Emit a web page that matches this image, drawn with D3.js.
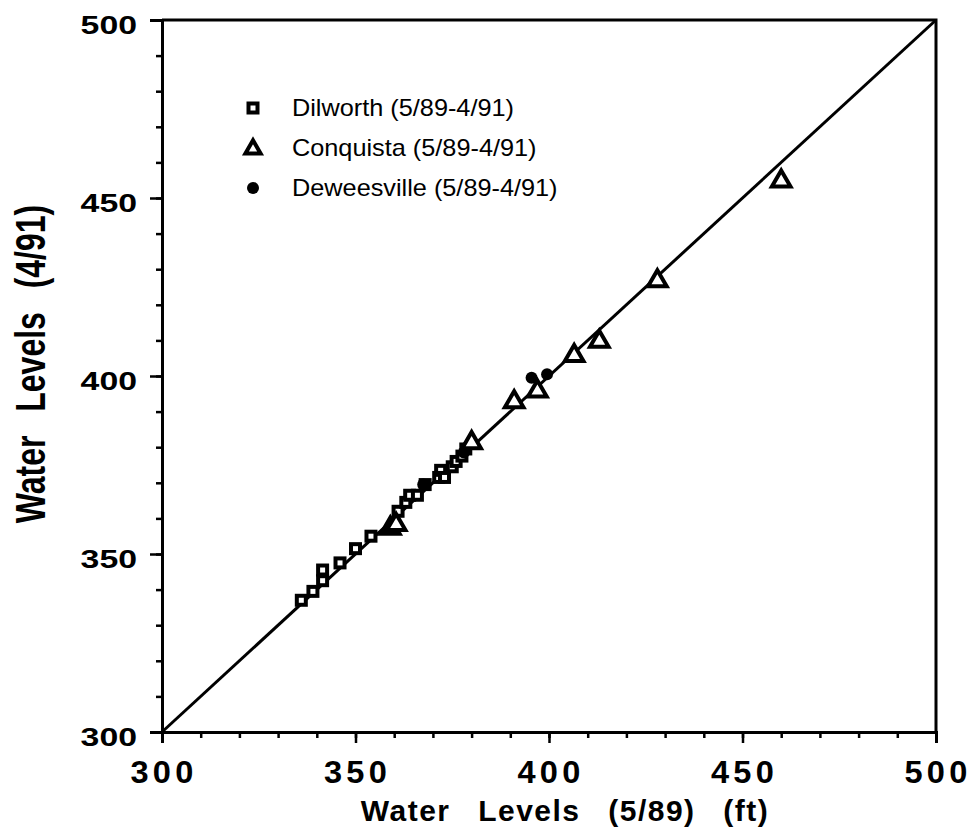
<!DOCTYPE html>
<html><head><meta charset="utf-8">
<script src="https://cdn.jsdelivr.net/npm/d3@7"></script>
<style>
html,body{margin:0;padding:0;background:#fff;}
svg{display:block;}
</style></head>
<body>
<script>
// ---- data ----
const xTicksMajor = [300, 350, 400, 450, 500];
const yTicksMajor = [300, 350, 400, 450, 500];
const legendLabels = ["Dilworth (5/89-4/91)", "Conquista (5/89-4/91)", "Deweesville (5/89-4/91)"];
const xTitle = "Water  Levels  (5/89)  (ft)";
const yTitle = "Water  Levels  (4/91)";

const dilworthX = [336, 339, 341.5, 341.5, 346, 350, 354, 361, 363, 364, 366, 368, 371.5, 372, 373, 375, 376, 377.5, 378.5];
const dilworthY = [337, 339.5, 342.5, 345.5, 347.5, 351.5, 355, 362, 364.5, 366.5, 366.5, 369.5, 371.5, 373.5, 371.5, 374.5, 376, 377.5, 379.5];

const conquistaX = [359, 360.5, 380, 391, 397, 406.5, 413, 428, 460];
const conquistaY = [357.5, 358.5, 381.5, 393, 396, 406, 410, 427, 455];

const deweesX = [367.5, 378, 395.5, 399.5];
const deweesY = [369.5, 378.5, 399.5, 400.5];

// ---- layout ----
const W = 974, H = 834;
const x = d3.scaleLinear().domain([300, 500]).range([162, 936]);
const y = d3.scaleLinear().domain([300, 500]).range([732, 20]);

const svg = d3.select("body").append("svg").attr("width", W).attr("height", H);
const font = "'Liberation Sans', Arial, Helvetica, sans-serif";

// frame (top/right)
svg.append("path")
  .attr("d", `M${x(300)},${y(500)}H${x(500)}V${y(300)}`)
  .attr("fill", "none").attr("stroke", "#000").attr("stroke-width", 3);

// axes
const minor = d3.range(300, 501, 10);
const gxMin = svg.append("g").attr("transform", `translate(0,${y(300)})`)
  .call(d3.axisBottom(x).tickValues(minor).tickSize(6).tickFormat(""));
const gxMaj = svg.append("g").attr("transform", `translate(0,${y(300)})`)
  .call(d3.axisBottom(x).tickValues(xTicksMajor).tickSize(11).tickFormat(""));
const gyMin = svg.append("g").attr("transform", `translate(${x(300)},0)`)
  .call(d3.axisLeft(y).tickValues(minor).tickSize(6).tickFormat(""));
const gyMaj = svg.append("g").attr("transform", `translate(${x(300)},0)`)
  .call(d3.axisLeft(y).tickValues(yTicksMajor).tickSize(12).tickFormat(""));
[gxMin, gxMaj, gyMin, gyMaj].forEach(g => {
  g.select(".domain").attr("stroke", "#000").attr("stroke-width", 3);
  g.selectAll(".tick line").attr("stroke", "#000").attr("stroke-width", 2.5);
});

// x tick labels
svg.append("g").selectAll("text").data(xTicksMajor).join("text")
  .attr("transform", d => `translate(${x(d) + 2},783) scale(1.05,1)`)
  .attr("text-anchor", "middle")
  .attr("font-family", font).attr("font-weight", "bold").attr("font-size", 31)
  .attr("letter-spacing", 4)
  .text(d => d);

// y tick labels (horizontally stretched)
svg.append("g").selectAll("text").data(yTicksMajor).join("text")
  .attr("transform", d => `translate(137,${y(d) + 14}) scale(1.3,1)`)
  .attr("text-anchor", "end")
  .attr("font-family", font).attr("font-weight", "bold").attr("font-size", 26)
  .text(d => d);

// axis titles
svg.append("text")
  .attr("x", 565).attr("y", 821).attr("text-anchor", "middle")
  .attr("font-family", font).attr("font-weight", "bold").attr("font-size", 30)
  .attr("letter-spacing", 1.5).attr("word-spacing", 4)
  .style("white-space", "pre")
  .text(xTitle);

svg.append("text")
  .attr("transform", `translate(45,364) rotate(-90) scale(1,1.3)`)
  .attr("text-anchor", "middle")
  .attr("font-family", font).attr("font-weight", "bold").attr("font-size", 32)
  .attr("word-spacing", 3)
  .style("white-space", "pre")
  .text(yTitle);

// 1:1 line
svg.append("path")
  .datum([300, 500])
  .attr("d", d3.line().x(d => x(d)).y(d => y(d)))
  .attr("stroke", "#000").attr("stroke-width", 3).attr("fill", "none");

// markers
const tri = d3.symbol(d3.symbolTriangle, 150);
const sq = 9;
function drawSquare(g, cx, cy) {
  g.append("rect").attr("x", cx - sq / 2).attr("y", cy - sq / 2)
    .attr("width", sq).attr("height", sq)
    .attr("fill", "#fff").attr("stroke", "#000").attr("stroke-width", 4);
}
function drawTri(g, cx, cy, t) {
  g.append("path").attr("d", (t || tri)()).attr("transform", `translate(${cx},${cy + 1})`)
    .attr("fill", "#fff").attr("stroke", "#000").attr("stroke-width", 4)
    .attr("stroke-linejoin", "miter");
}
function drawDot(g, cx, cy) {
  g.append("circle").attr("cx", cx).attr("cy", cy).attr("r", 6).attr("fill", "#000");
}

const pts = svg.append("g");
dilworthX.forEach((v, i) => drawSquare(pts, x(v), y(dilworthY[i])));
conquistaX.forEach((v, i) => drawTri(pts, x(v), y(conquistaY[i])));
deweesX.forEach((v, i) => drawDot(pts, x(v), y(deweesY[i])));

// legend
const leg = svg.append("g");
const legY = [108, 148, 188];
drawSquare(leg, 253, legY[0]);
drawTri(leg, 253, legY[1], d3.symbol(d3.symbolTriangle, 100));
drawDot(leg, 253, legY[2]);
leg.selectAll("text").data(legendLabels).join("text")
  .attr("transform", (d, i) => `translate(292,${legY[i] + 8}) scale(1.1,1)`)
  .attr("font-family", font).attr("font-size", 23)
  .text(d => d);
</script>
</body></html>
